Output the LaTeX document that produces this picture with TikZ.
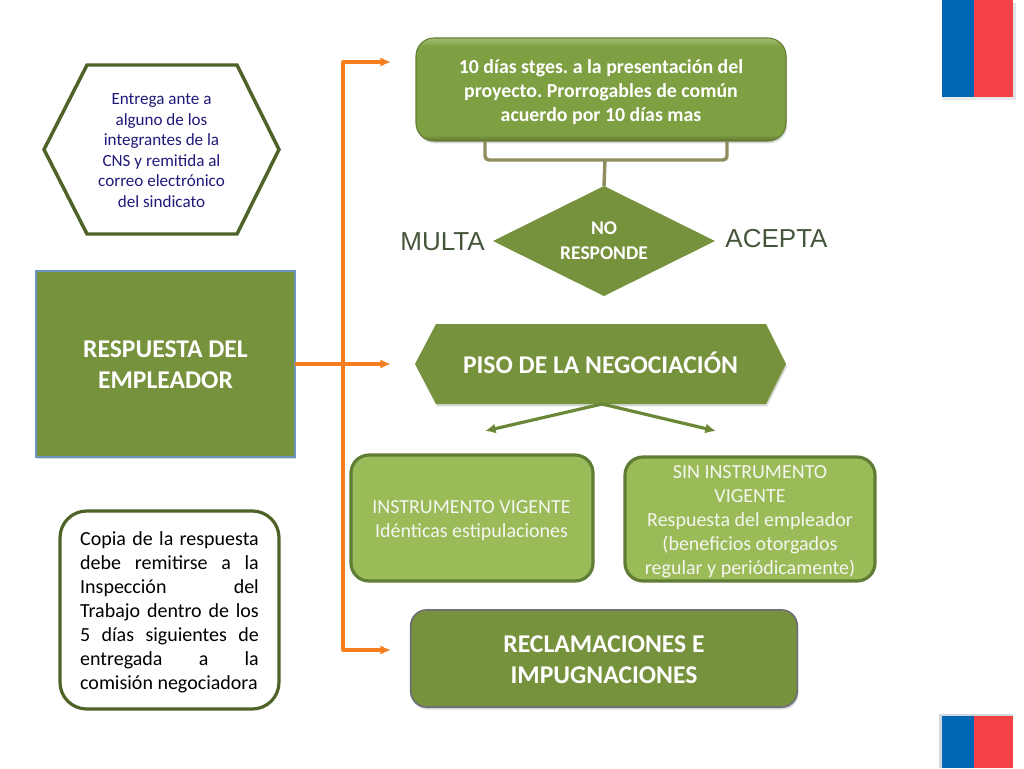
\documentclass[tikz,border=0pt]{standalone}
\usepackage{fontspec}
\setmainfont{Carlito}
\newfontfamily\arialfont{Liberation Sans}
\usetikzlibrary{shapes.geometric,shadows,arrows.meta,calc}
\definecolor{olivedark}{HTML}{76923C}
\definecolor{olivebox}{HTML}{7F9F43}
\definecolor{olivetop}{HTML}{A4BE72}
\definecolor{olivebottom}{HTML}{5C7430}
\definecolor{olivelight}{HTML}{9BBB59}
\definecolor{oliveline}{HTML}{4F6228}
\definecolor{midline}{HTML}{6A8838}
\definecolor{boxline}{HTML}{5F7D34}
\definecolor{tanline}{HTML}{8F8D60}
\definecolor{orangeline}{HTML}{F57F1E}
\definecolor{navytext}{HTML}{1F1A7A}
\definecolor{labeltext}{HTML}{45553A}
\definecolor{flagblue}{HTML}{0067B5}
\definecolor{flagred}{HTML}{F34146}
\definecolor{flagshadow}{HTML}{D2D8DF}
\definecolor{purpleline}{HTML}{6E6A7E}
\definecolor{blueline}{HTML}{6C94BE}
\pgfdeclareverticalshading{glossbox}{100bp}{color(0bp)=(olivebottom); color(25bp)=(olivebottom); color(28bp)=(olivebox); color(71bp)=(olivebox); color(75bp)=(olivetop); color(100bp)=(olivetop)}
\tikzset{
  softshadow/.style={drop shadow={shadow xshift=0.8pt,shadow yshift=-1.8pt,opacity=0.22,fill=black!70}},
  bluebox/.style={inner sep=0pt,outer sep=0pt,align=center},
  whitebold/.style={text=white},
  orangeconn/.style={draw=orangeline,line width=2.3pt,-{Latex[length=8pt,width=7pt]}},
  greenconn/.style={draw=midline,line width=2.4pt,-{Latex[length=8pt,width=7.5pt]}},
  bracketline/.style={draw=tanline,line width=2.6pt,rounded corners=3pt},
  lightbox/.style={bluebox,rectangle,rounded corners=13.5pt,fill=olivelight,draw=boxline,line width=2.4pt,text=white!92!olivedark,font=\fontsize{15}{18}\selectfont},
}
\begin{document}
\frenchspacing
\begin{tikzpicture}[x=0.75pt,y=-0.75pt]
\useasboundingbox (0,0) rectangle (1024,768);
% flags
\fill[flagshadow!55] (942,96) rectangle (1016,100);
\fill[flagshadow!70] (1013,3) rectangle (1016,100);
\fill[flagblue] (942,0) rectangle (974,96.5);
\fill[flagred] (974,0) rectangle (1013,96.5);
\fill[flagshadow] (939,714) rectangle (1013,768);
\fill[flagblue] (942,716) rectangle (974,768);
\fill[flagred] (974,716) rectangle (1013,768);
% left hexagon
\path[draw=oliveline,line width=2.6pt,fill=white,line join=miter] (44,149.5) -- (87,65) -- (237,65) -- (279,149.5) -- (237,234) -- (87,234) -- cycle;
\node[bluebox,text=navytext,font=\fontsize{12.8}{15.4}\selectfont] (entrega) at (161.5,150.5) {Entrega ante a\\alguno de los\\integrantes de la\\CNS y remitida al\\correo electrónico\\del sindicato};
% respuesta
\node[bluebox,rectangle,fill=olivedark,draw=blueline,line width=0.8pt,minimum width=194.25pt,minimum height=139.5pt,softshadow] (resp) at (165.5,364) {};
\node[bluebox,whitebold,font=\fontsize{19.2}{23}\selectfont\bfseries] (resptext) at (165.5,365) {RESPUESTA DEL\\EMPLEADOR};
% copia
\node[rectangle,rounded corners=20pt,draw=oliveline,line width=2.4pt,fill=white,minimum width=164.25pt,minimum height=148.5pt,inner sep=0pt,outer sep=0pt] (copiabox) at (169.5,610) {};
\node[inner sep=0pt,text width=134pt,align=justify,font=\fontsize{15}{18}\selectfont] (copia) at (169.5,612.5) {Copia de la respuesta\linebreak debe remitirse a la\linebreak Inspección del\linebreak Trabajo dentro de los\linebreak 5 días siguientes de\linebreak entregada a la\linebreak comisión negociadora};
% orange connectors
\coordinate (tipA) at (391,62);
\coordinate (tipB) at (391,364);
\coordinate (tipC) at (391,650);
\coordinate (trunkA) at (343,62);
\coordinate (trunkC) at (343,650);
\draw[orangeconn,{Latex[length=8pt,width=7pt]}-{Latex[length=8pt,width=7pt]},line join=round] (tipA) -- (trunkA) -- (trunkC) -- (tipC);
\draw[orangeconn] (resp.east) -- (tipB);
% top box
\node[bluebox,rectangle,rounded corners=13.5pt,shading=glossbox,draw=olivedark!85!black,line width=0.8pt,minimum width=277.5pt,minimum height=77.25pt,softshadow] (plazo) at (601,89.5) {};
\node[bluebox,whitebold,font=\fontsize{14.9}{18}\selectfont\bfseries] (plazotext) at (601,92) {10 días stges. a la presentación del\\proyecto. Prorrogables de común\\acuerdo por 10 días mas};
% diamond
\node[diamond,aspect=2,inner sep=0pt,outer sep=0pt,fill=olivedark,minimum width=166.5pt,minimum height=82.5pt,align=center,text=white,font=\fontsize{14.6}{18.5}\selectfont\bfseries] (resp2) at (604,241) {NO\\RESPONDE};
% bracket
\coordinate (brL) at (485,141);
\coordinate (brR) at (727,141);
\coordinate (brM) at (605,160);
\draw[bracketline] (brL) -- (485,160) -- (727,160) -- (brR);
\draw[bracketline] (brM) -- (resp2.north);
% labels
\node[text=labeltext,font=\arialfont\fontsize{19.5}{22}\selectfont,inner sep=0pt] (multa) at (442.5,241.5) {MULTA};
\node[text=labeltext,font=\arialfont\fontsize{19.5}{22}\selectfont,inner sep=0pt] (acepta) at (776.5,238.5) {ACEPTA};
% piso
\path[fill=olivedark,softshadow] (415,364) -- (436,324) -- (766,324) -- (786,364) -- (766,404) -- (436,404) -- cycle;
\node[bluebox,whitebold,font=\fontsize{19.2}{23}\selectfont\bfseries,minimum width=278pt,minimum height=60pt] (piso) at (600.5,363) {PISO DE LA NEGOCIACIÓN};
\coordinate (arrL) at (485,431);
\coordinate (arrR) at (716,431);
\coordinate (pisoB) at (602,404);
\draw[greenconn] (pisoB) -- (arrL);
\draw[greenconn] (pisoB) -- (arrR);
% light boxes
\node[lightbox,minimum width=181.5pt,minimum height=94.5pt] (inst) at (472,518) {};
\node[bluebox,text=white!92!olivedark,font=\fontsize{15}{18}\selectfont] (insttext) at (471.5,520.5) {INSTRUMENTO VIGENTE\\Idénticas estipulaciones};
\node[lightbox,minimum width=187.5pt,minimum height=93pt] (sin) at (750,519) {};
\node[bluebox,text=white!92!olivedark,font=\fontsize{15}{18}\selectfont] (sintext) at (750,521.5) {SIN INSTRUMENTO\\VIGENTE\\Respuesta del empleador\\(beneficios otorgados\\regular y periódicamente)};
% reclamaciones
\node[bluebox,rectangle,rounded corners=12pt,fill=olivedark,draw=purpleline,line width=1.1pt,minimum width=290pt,minimum height=73pt,softshadow] (recl) at (604,658.5) {};
\node[bluebox,whitebold,font=\fontsize{19.2}{23}\selectfont\bfseries] (recltext) at (604,659.5) {RECLAMACIONES E\\IMPUGNACIONES};
\end{tikzpicture}
\end{document}
